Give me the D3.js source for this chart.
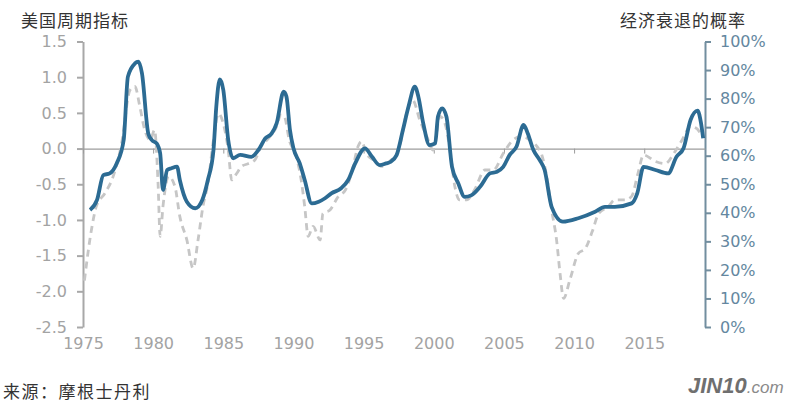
<!DOCTYPE html>
<html>
<head>
<meta charset="utf-8">
<script src="https://cdn.jsdelivr.net/npm/d3@7"></script>
<style>
  body { margin: 0; background: #fff; }
  text { font-family: "DejaVu Sans", sans-serif; }
  .cjk { font-family: "Noto Sans CJK SC", sans-serif; fill: #333; }
</style>
</head>
<body>
<div id="chart"></div>
<script>
// Chart data
var leftTicks = [1.5, 1.0, 0.5, 0.0, -0.5, -1.0, -1.5, -2.0, -2.5];
var rightTicks = [0, 0.1, 0.2, 0.3, 0.4, 0.5, 0.6, 0.7, 0.8, 0.9, 1.0];
var yearTicks = [1975, 1980, 1985, 1990, 1995, 2000, 2005, 2010, 2015];

// blue line: probability of recession (%), right axis
var blueYears = [1975.5, 1976.0, 1976.45, 1976.9, 1977.4, 1977.9, 1978.2, 1978.7, 1978.95, 1979.2,
  1979.65, 1979.9, 1980.25, 1980.5, 1980.7, 1981.0, 1981.3, 1981.7, 1981.9, 1982.4,
  1983.0, 1983.5, 1983.9, 1984.3, 1984.5, 1984.75, 1985.0, 1985.35, 1985.7, 1986.2,
  1987.0, 1987.5, 1988.0, 1988.45, 1988.8, 1989.3, 1989.5, 1989.75, 1990.0, 1990.45,
  1990.8, 1991.3, 1991.8, 1992.25, 1992.7, 1993.4, 1993.9, 1994.4, 1995.1, 1995.6,
  1996.15, 1996.6, 1996.9, 1997.35, 1997.8, 1998.2, 1998.65, 1998.9, 1999.25, 1999.7,
  2000.1, 2000.3, 2000.6, 2000.9, 2001.3, 2001.75, 2002.2, 2002.7, 2003.3, 2004.0,
  2004.5, 2004.95, 2005.4, 2005.9, 2006.4, 2006.7, 2007.1, 2007.55, 2007.9, 2008.4,
  2009.2, 2010.3, 2011.5, 2012.2, 2012.9, 2014.1, 2014.5, 2014.95, 2015.8, 2016.7,
  2017.3, 2017.8, 2018.3, 2018.8, 2019.05, 2019.2];
var blueProb = [41, 44.5, 53.2, 53.8, 57.3, 65.5, 87.7, 92.3, 92.9, 88.9,
  67.8, 65.5, 64.3, 60.8, 48, 55, 55.6, 56.2, 51.5, 43.9,
  41.6, 44.5, 51.5, 62, 77.2, 86.7, 83, 65.5, 59.1, 60.3,
  59.6, 62, 66.1, 67.8, 71.3, 82.4, 80.7, 69, 62.6, 57.3,
  51.5, 43.3, 43.9, 45.1, 46.8, 48.6, 51.5, 57.3, 62.6, 59.6,
  56.7, 57.3, 57.8, 60.2, 69, 77.2, 84.2, 80.7, 71.3, 63.7,
  64.3, 73.7, 76.6, 73.7, 56.1, 50.3, 45.6, 46.2, 49.1, 53.8,
  54.4, 56.1, 60.2, 63.2, 70.8, 67.8, 62, 58.5, 55, 42.1,
  36.9, 38.1, 40.4, 42.1, 42.1, 43.3, 46.8, 56.1, 55, 53.8,
  59.6, 62.6, 72.5, 75.8, 71.3, 66.1];

// grey dashed line: US cycle indicator, left axis
var greyYears = [1975.1, 1975.6, 1975.95, 1976.55, 1977.15, 1977.75, 1978.35, 1978.7, 1979.05, 1979.4,
  1979.8, 1980.1, 1980.35, 1980.5, 1980.7, 1981.1, 1981.55, 1981.9, 1982.4, 1982.85,
  1983.2, 1983.55, 1983.9, 1984.3, 1984.65, 1985.0, 1985.35, 1985.6, 1985.95, 1986.3,
  1986.8, 1987.25, 1987.7, 1988.2, 1988.8, 1989.1, 1989.35, 1989.7, 1990.2, 1990.55,
  1990.8, 1991.05, 1991.4, 1991.9, 1992.1, 1992.6, 1993.2, 1993.7, 1994.2, 1994.6,
  1994.85, 1995.2, 1995.7, 1996.3, 1996.9, 1997.5, 1998.05, 1998.5, 1999.0, 1999.5,
  1999.95, 2000.45, 2000.8, 2001.15, 2001.5, 2001.85, 2002.35, 2002.9, 2003.65, 2004.25,
  2004.95, 2005.65, 2006.25, 2006.85, 2007.35, 2007.7, 2008.1, 2008.4, 2008.75, 2009.0,
  2009.25, 2009.7, 2010.3, 2010.8, 2011.3, 2011.75, 2012.45, 2012.9, 2013.6, 2014.1,
  2014.55, 2014.95, 2015.8, 2016.5, 2017.1, 2017.7, 2018.3, 2018.75, 2019.1];
var greyCycle = [-1.85, -1.14, -0.81, -0.63, -0.39, 0.07, 0.82, 0.87, 0.59, 0.26,
  0.12, 0.26, -0.49, -1.23, -0.81, -0.39, -0.53, -0.95, -1.28, -1.68,
  -1.28, -0.81, -0.49, 0.12, 0.49, 0.35, -0.02, -0.44, -0.35, -0.25,
  -0.21, -0.16, 0.03, 0.14, 0.31, 0.47, 0.45, 0.12, -0.11, -0.44,
  -0.81, -1.23, -1.09, -1.28, -0.91, -0.86, -0.67, -0.58, -0.30, 0.03,
  0.10, -0.07, -0.16, -0.25, -0.17, -0.02, 0.49, 0.68, 0.40, 0.17,
  -0.02, 0.45, 0.35, -0.02, -0.53, -0.72, -0.72, -0.58, -0.30, -0.30,
  -0.07, 0.12, 0.17, 0.12, 0.03, -0.09, -0.45, -0.86, -1.28, -1.75,
  -2.10, -1.84, -1.47, -1.40, -1.16, -0.91, -0.81, -0.72, -0.72, -0.67,
  -0.35, -0.09, -0.18, -0.21, -0.07, 0.12, 0.31, 0.28, 0.17];

var svgWidth = 800;
var svgHeight = 404;

var margin = { top: 41.5, right: 95, bottom: 77, left: 83 };
var width = svgWidth - margin.left - margin.right;
var height = svgHeight - margin.top - margin.bottom;

var svg = d3.select("#chart")
  .append("svg")
  .attr("width", svgWidth)
  .attr("height", svgHeight);

var chartGroup = svg.append("g")
  .attr("transform", `translate(${margin.left}, ${margin.top})`);

// scales
var xScale = d3.scaleLinear().domain([1975, 2019.33]).range([0, width]);
var yLeft = d3.scaleLinear().domain([-2.5, 1.5]).range([height, 0]);
var yRight = d3.scaleLinear().domain([0, 1]).range([height, 0]);

// plain hyphen for negatives, like the original
var leftFormat = (d) => d.toFixed(1);

// left axis
var leftAxis = chartGroup.append("g")
  .call(d3.axisLeft(yLeft).tickValues(leftTicks).tickFormat(leftFormat).tickSize(6).tickSizeOuter(0).tickPadding(10));
leftAxis.select(".domain").attr("stroke", "#a8a8a8").attr("stroke-width", 2);
leftAxis.selectAll(".tick line").attr("stroke", "#a8a8a8").attr("stroke-width", 2);
leftAxis.selectAll("text").attr("fill", "#a3a3a3").style("font-size", "16px");

// right axis
var rightAxis = chartGroup.append("g")
  .attr("transform", `translate(${width}, 0)`)
  .call(d3.axisRight(yRight).tickValues(rightTicks).tickFormat(d3.format(".0%")).tickSize(6).tickSizeOuter(0).tickPadding(9));
rightAxis.select(".domain").attr("stroke", "#728e9f").attr("stroke-width", 2);
rightAxis.selectAll(".tick line").attr("stroke", "#728e9f").attr("stroke-width", 2);
rightAxis.selectAll("text").attr("fill", "#6487a0").style("font-size", "16px");

// zero line with small year ticks
var zeroAxis = chartGroup.append("g")
  .attr("transform", `translate(0, ${yLeft(0)})`)
  .call(d3.axisBottom(xScale).tickValues(yearTicks).tickSize(5).tickSizeOuter(0).tickFormat(""));
zeroAxis.select(".domain").attr("stroke", "#9c9c9c").attr("stroke-width", 1.3);
zeroAxis.selectAll(".tick line").attr("stroke", "#9c9c9c");

// year labels
var xLabels = chartGroup.append("g")
  .attr("transform", `translate(0, ${height + 8})`)
  .call(d3.axisBottom(xScale).tickValues(yearTicks).tickSize(0).tickFormat(d3.format("d")));
xLabels.select(".domain").remove();
xLabels.selectAll("text").attr("fill", "#a3a3a3").style("font-size", "16px");

// grey dashed cycle line
var greyLine = d3.line()
  .x((d, i) => xScale(greyYears[i]))
  .y((d) => yLeft(d))
  .curve(d3.curveMonotoneX);

chartGroup.append("path")
  .datum(greyCycle)
  .attr("d", greyLine)
  .attr("fill", "none")
  .attr("stroke", "#c6c6c6")
  .attr("stroke-width", 2.8)
  .attr("stroke-dasharray", "7,5");

// blue probability line
var blueLine = d3.line()
  .x((d, i) => xScale(blueYears[i]))
  .y((d) => yRight(d / 100))
  .curve(d3.curveMonotoneX);

chartGroup.append("path")
  .datum(blueProb)
  .attr("d", blueLine)
  .attr("fill", "none")
  .attr("stroke", "#2c6b93")
  .attr("stroke-width", 3.8)
  .attr("stroke-linejoin", "round");

// titles
svg.append("text").attr("class", "cjk")
  .attr("x", 21).attr("y", 27)
  .style("font-size", "17px").style("letter-spacing", "1px")
  .text("美国周期指标");

svg.append("text").attr("class", "cjk")
  .attr("x", 620).attr("y", 27)
  .style("font-size", "17px").style("letter-spacing", "1px")
  .text("经济衰退的概率");

svg.append("text").attr("class", "cjk")
  .attr("x", 3).attr("y", 398)
  .style("font-size", "17px").style("letter-spacing", "1.5px")
  .text("来源：摩根士丹利");

// watermark
var mark = svg.append("text")
  .attr("x", 688).attr("y", 393)
  .style("font-family", "Liberation Sans, sans-serif")
  .style("font-style", "italic");
mark.append("tspan").attr("fill", "#6f6f6f").style("font-size", "22px").style("font-weight", "bold").text("JIN10");
mark.append("tspan").attr("fill", "#8a8a8a").style("font-size", "17px").text(".com");
</script>
</body>
</html>
